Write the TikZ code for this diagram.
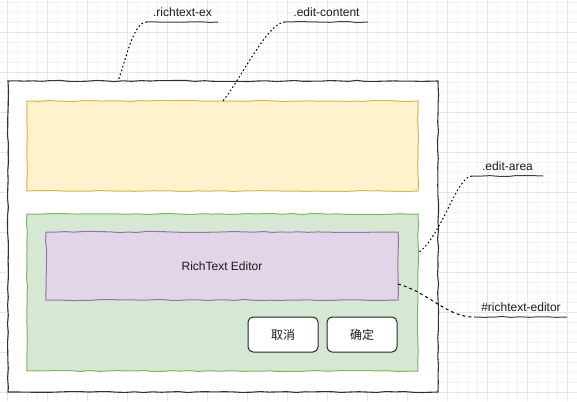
\documentclass[tikz,border=0pt]{standalone}
\usepackage{fontspec}
\setmainfont{Liberation Sans}
\newfontfamily\cjk{Noto Sans CJK SC}
\usetikzlibrary{decorations.pathmorphing}
\definecolor{gridmin}{HTML}{F3F3F3}
\definecolor{gridmaj}{HTML}{E6E6E6}
\definecolor{ylwfill}{HTML}{FFF2CC}
\definecolor{ylwline}{HTML}{D6B656}
\definecolor{grnfill}{HTML}{D5E8D4}
\definecolor{grnline}{HTML}{82B366}
\definecolor{prpfill}{HTML}{E1D5E7}
\definecolor{prpline}{HTML}{9673A6}
\definecolor{ink}{HTML}{1A1A1A}
\tikzset{
  sketch/.style={decorate, decoration={random steps, segment length=9pt, amplitude=0.55pt}},
  box/.style={sketch, draw, line width=1pt, inner sep=0pt, font=\fontsize{12}{14}\selectfont, text=ink},
  outerbox/.style={box, draw=black!80, fill=white, line width=1.1pt},
  ylwbox/.style={box, draw=ylwline, fill=ylwfill},
  grnbox/.style={box, draw=grnline, fill=grnfill},
  prpbox/.style={box, draw=prpline, fill=prpfill},
  btn/.style={draw=black!85, fill=white, line width=1pt, rounded corners=5pt, minimum width=70pt, minimum height=35pt, font=\cjk\fontsize{12}{14}\selectfont, text=ink, inner sep=0pt},
  lab/.style={anchor=south, inner xsep=0pt, inner ysep=5pt, text depth=0pt, font=\fontsize{12}{14}\selectfont, text=ink},
  uline/.style={sketch, draw=black!75, line width=1pt},
  lead/.style={draw=black, line width=1pt, dash pattern=on 1.6pt off 2.4pt},
  lead2/.style={draw=black, line width=1pt, dash pattern=on 3pt off 3pt},
}
\begin{document}
\begin{tikzpicture}[x=1pt, y=-1pt]
\pgfmathsetseed{11}
\useasboundingbox (0,0) rectangle (577,401);
\fill[white] (0,0) rectangle (577,401);
% grid
\foreach \gx in {7,17,...,577} \draw[gridmin, line width=0.8pt] (\gx,0) -- (\gx,401);
\foreach \gy in {2,12,...,401} \draw[gridmin, line width=0.8pt] (0,\gy) -- (577,\gy);
\foreach \gx in {7,47,...,577} \draw[gridmaj, line width=0.8pt] (\gx,0) -- (\gx,401);
\foreach \gy in {32,72,...,401} \draw[gridmaj, line width=0.8pt] (0,\gy) -- (577,\gy);
% boxes
\node[outerbox, minimum width=430pt, minimum height=311pt] (ex) at (223,236.5) {};
\node[ylwbox, minimum width=391pt, minimum height=90pt] (content) at (222.5,146) {};
\node[grnbox, minimum width=391pt, minimum height=157pt] (area) at (222.5,292.5) {};
\node[prpbox, minimum width=352pt, minimum height=68pt] (editor) at (222,266) {RichText Editor};
\node[btn] (cancel) at (283,334.5) {取消};
\node[btn] (ok) at (362,334.5) {确定};
% labels
\node[lab, minimum width=71pt] (l1) at (182.5,22) {.richtext-ex};
\node[lab, minimum width=83pt] (l2) at (326.5,22) {.edit-content};
\node[lab, minimum width=71pt] (l3) at (507.5,176) {.edit-area};
\node[lab, minimum width=92pt] (l4) at (521,317) {\#richtext-editor};
\foreach \l in {l1,l2,l3,l4} \draw[uline] (\l.south west) -- (\l.south east);
% anchor points on the boxes
\coordinate (c1) at (118,81);
\coordinate (c2) at (223,101);
\coordinate (c3) at (418,253);
\coordinate (c4) at (398,284);
\draw[lead] (l1.south west) .. controls (133,22) and (126,60) .. (c1);
\draw[lead] (l2.south west) .. controls (268,22) and (240,80) .. (c2);
\draw[lead] (l3.south west) .. controls (456,177) and (442,236) .. (c3);
\draw[lead2] (c4) .. controls (428,292) and (448,318) .. (l4.south west);
\end{tikzpicture}
\end{document}
